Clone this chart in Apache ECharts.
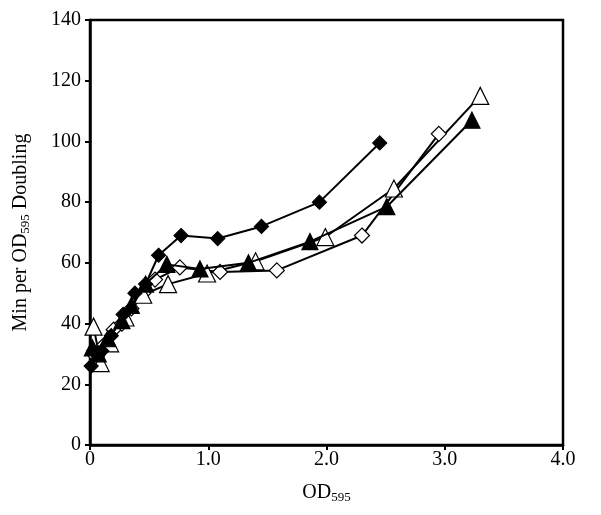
<!DOCTYPE html>
<html>
<head>
<meta charset="utf-8">
<script src="https://cdn.jsdelivr.net/npm/echarts@6/dist/echarts.min.js"></script>
<style>
  html, body { margin: 0; padding: 0; background: #fff; }
  #chart { width: 601px; height: 515px; }
</style>
</head>
<body>
<div id="chart"></div>
<script>
// data: [OD595, min per doubling]
const filledDiamond = [[0.01, 26], [0.03, 31], [0.1, 31], [0.18, 36], [0.28, 43], [0.38, 50], [0.47, 53], [0.58, 62.5], [0.77, 69], [1.08, 68], [1.45, 72], [1.94, 80], [2.45, 99.5]];
const filledTriangle = [[0.02, 32], [0.07, 30], [0.15, 35], [0.27, 41], [0.35, 46], [0.47, 53], [0.65, 59.5], [0.93, 58], [1.34, 60], [1.86, 67], [2.51, 78.5], [3.23, 107]];
const openTriangle = [[0.03, 39], [0.09, 27], [0.17, 33.5], [0.3, 42], [0.45, 49.5], [0.66, 53], [0.99, 56.5], [1.4, 60.5], [1.99, 68.5], [2.57, 84.5], [3.3, 115]];
const openDiamond = [[0.03, 30], [0.12, 33], [0.2, 38], [0.27, 40], [0.35, 45], [0.45, 50], [0.55, 54.5], [0.76, 58.5], [1.1, 57], [1.58, 57.5], [2.3, 69], [2.95, 102.5]];

const xTicks = [0, 1, 2, 3, 4];
const yTicks = [0, 20, 40, 60, 80, 100, 120, 140];

const font = 'Liberation Serif';
const chart = echarts.init(document.getElementById('chart'));

const mkSeries = (data, symbol, fill, size) => ({
  type: 'line',
  data: data,
  symbol: symbol,
  symbolSize: size,
  lineStyle: { color: '#000', width: 2 },
  itemStyle: { color: fill, borderColor: '#000', borderWidth: 1.2 },
  z: fill === '#fff' ? 3 : 4
});

chart.setOption({
  animation: false,
  grid: { left: 90, right: 38, top: 20, bottom: 70, show: true, borderColor: '#000', borderWidth: 2.5 },
  xAxis: {
    type: 'value', min: 0, max: 4, interval: 1,
    name: '{a|OD}{s|595}', nameLocation: 'middle', nameGap: 36,
    nameTextStyle: {
      rich: {
        a: { fontFamily: font, fontSize: 20, color: '#000' },
        s: { fontFamily: font, fontSize: 13, color: '#000', padding: [10, 0, 0, 0] }
      }
    },
    axisLine: { lineStyle: { color: '#000', width: 2.5 } },
    axisTick: { show: true, length: 5, lineStyle: { color: '#000', width: 2 } },
    splitLine: { show: false },
    axisLabel: {
      fontFamily: font, fontSize: 20, color: '#000', margin: 5,
      formatter: v => (xTicks.includes(v) ? (v === 0 ? '0' : v.toFixed(1)) : '')
    }
  },
  yAxis: {
    type: 'value', min: 0, max: 140, interval: 20,
    name: '{a|Min per OD}{s|595}{a| Doubling}', nameLocation: 'middle', nameGap: 58,
    nameTextStyle: {
      rich: {
        a: { fontFamily: font, fontSize: 20, color: '#000' },
        s: { fontFamily: font, fontSize: 13, color: '#000', padding: [10, 0, 0, 0] }
      }
    },
    axisLine: { show: true, lineStyle: { color: '#000', width: 2.5 } },
    axisTick: { show: true, length: 5, lineStyle: { color: '#000', width: 2 } },
    splitLine: { show: false },
    axisLabel: {
      fontFamily: font, fontSize: 20, color: '#000', margin: 9,
      formatter: v => (yTicks.includes(v) ? String(v) : '')
    }
  },
  series: [
    mkSeries(openDiamond, 'diamond', '#fff', 15),
    mkSeries(openTriangle, 'triangle', '#fff', 17),
    mkSeries(filledTriangle, 'triangle', '#000', 16),
    mkSeries(filledDiamond, 'diamond', '#000', 14)
  ]
});
</script>
</body>
</html>
